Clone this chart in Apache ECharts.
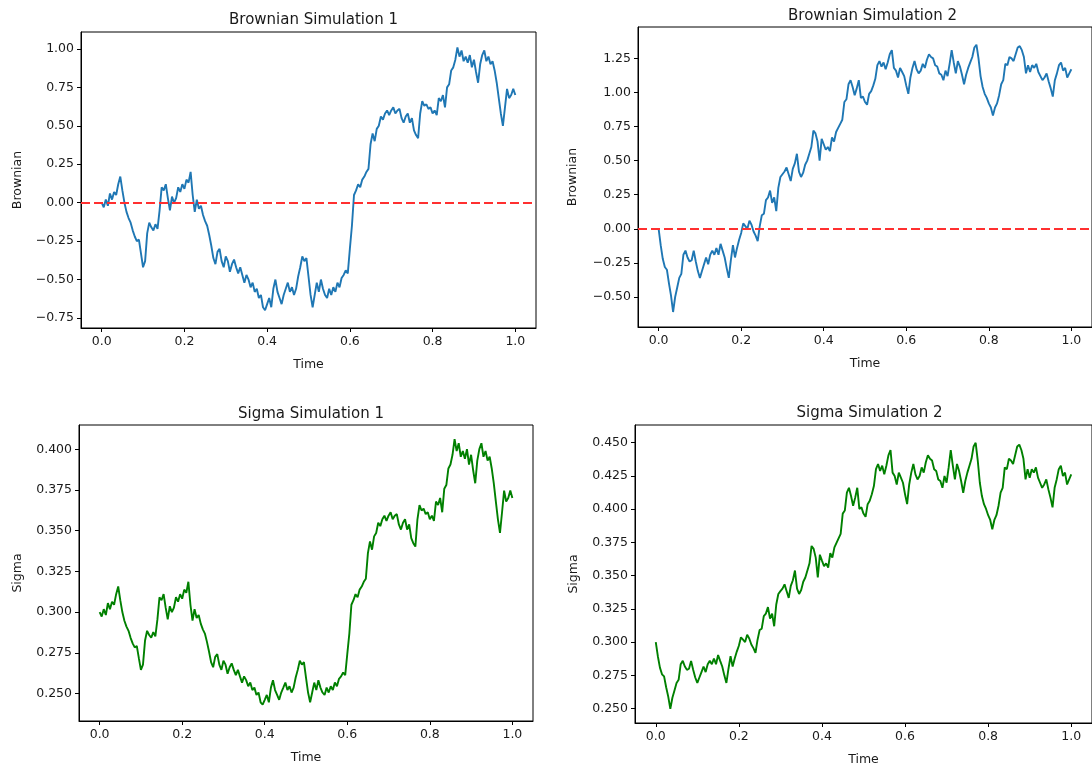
<!DOCTYPE html>
<html>
<head>
<meta charset="utf-8">
<script src="https://cdn.jsdelivr.net/npm/echarts@6/dist/echarts.min.js"></script>
<style>
html,body{margin:0;padding:0;background:#fff;}
#chart{width:1092px;height:767px;}
</style>
</head>
<body>
<div id="chart"></div>
<script>
// ---------- data ----------
const time = [
0,0.005,0.01,0.015,0.02,0.025,0.03,0.035,0.04,0.045,
0.05,0.055,0.06,0.065,0.07,0.075,0.08,0.085,0.09,0.095,
0.1,0.105,0.11,0.115,0.12,0.125,0.13,0.135,0.14,0.145,
0.15,0.155,0.16,0.165,0.17,0.175,0.18,0.185,0.19,0.195,
0.2,0.205,0.21,0.215,0.22,0.225,0.23,0.235,0.24,0.245,
0.25,0.255,0.26,0.265,0.27,0.275,0.28,0.285,0.29,0.295,
0.3,0.305,0.31,0.315,0.32,0.325,0.33,0.335,0.34,0.345,
0.35,0.355,0.36,0.365,0.37,0.375,0.38,0.385,0.39,0.395,
0.4,0.405,0.41,0.415,0.42,0.425,0.43,0.435,0.44,0.445,
0.45,0.455,0.46,0.465,0.47,0.475,0.48,0.485,0.49,0.495,
0.5,0.505,0.51,0.515,0.52,0.525,0.53,0.535,0.54,0.545,
0.55,0.555,0.56,0.565,0.57,0.575,0.58,0.585,0.59,0.595,
0.6,0.605,0.61,0.615,0.62,0.625,0.63,0.635,0.64,0.645,
0.65,0.655,0.66,0.665,0.67,0.675,0.68,0.685,0.69,0.695,
0.7,0.705,0.71,0.715,0.72,0.725,0.73,0.735,0.74,0.745,
0.75,0.755,0.76,0.765,0.77,0.775,0.78,0.785,0.79,0.795,
0.8,0.805,0.81,0.815,0.82,0.825,0.83,0.835,0.84,0.845,
0.85,0.855,0.86,0.865,0.87,0.875,0.88,0.885,0.89,0.895,
0.9,0.905,0.91,0.915,0.92,0.925,0.93,0.935,0.94,0.945,
0.95,0.955,0.96,0.965,0.97,0.975,0.98,0.985,0.99,0.995,
1.0
];

const brownian1 = [
0.00,-0.03,0.02,-0.02,0.06,0.02,0.07,0.05,0.12,0.17,
0.08,0.00,-0.06,-0.10,-0.13,-0.18,-0.22,-0.25,-0.24,-0.33,
-0.42,-0.38,-0.20,-0.13,-0.16,-0.18,-0.14,-0.17,-0.05,0.10,
0.08,0.12,0.03,-0.05,0.04,0.00,0.03,0.10,0.07,0.12,
0.09,0.15,0.13,0.20,0.05,-0.06,0.02,-0.04,-0.02,-0.08,
-0.12,-0.15,-0.21,-0.28,-0.36,-0.40,-0.32,-0.30,-0.38,-0.42,
-0.35,-0.38,-0.45,-0.40,-0.37,-0.42,-0.46,-0.42,-0.47,-0.52,
-0.47,-0.50,-0.55,-0.52,-0.58,-0.56,-0.62,-0.60,-0.68,-0.70,
-0.66,-0.62,-0.68,-0.56,-0.50,-0.58,-0.62,-0.66,-0.60,-0.56,
-0.52,-0.58,-0.55,-0.60,-0.56,-0.48,-0.42,-0.35,-0.38,-0.36,
-0.48,-0.60,-0.68,-0.60,-0.52,-0.58,-0.50,-0.56,-0.60,-0.62,
-0.56,-0.60,-0.55,-0.58,-0.52,-0.55,-0.49,-0.47,-0.44,-0.46,
-0.30,-0.15,0.05,0.08,0.12,0.10,0.15,0.17,0.20,0.22,
0.38,0.45,0.40,0.48,0.50,0.56,0.54,0.58,0.60,0.57,
0.60,0.62,0.58,0.60,0.61,0.55,0.52,0.56,0.58,0.52,
0.55,0.47,0.44,0.42,0.58,0.66,0.63,0.64,0.61,0.62,
0.58,0.60,0.57,0.68,0.66,0.70,0.62,0.75,0.77,0.86,
0.88,0.93,1.01,0.95,0.99,0.92,0.95,0.91,0.96,0.88,
0.93,0.85,0.78,0.90,0.96,0.99,0.92,0.95,0.90,0.92,
0.86,0.78,0.68,0.58,0.50,0.62,0.74,0.68,0.70,0.74,
0.70
];

const brownian2 = [
0.00,-0.12,-0.22,-0.28,-0.30,-0.40,-0.49,-0.61,-0.50,-0.43,
-0.36,-0.33,-0.19,-0.16,-0.21,-0.24,-0.23,-0.16,-0.24,-0.31,
-0.36,-0.31,-0.26,-0.21,-0.26,-0.19,-0.16,-0.19,-0.14,-0.19,
-0.11,-0.16,-0.21,-0.29,-0.36,-0.23,-0.12,-0.21,-0.14,-0.08,
-0.03,0.04,0.02,0.00,0.06,0.03,-0.02,-0.05,-0.09,0.02,
0.10,0.11,0.21,0.23,0.28,0.19,0.23,0.13,0.30,0.38,
0.40,0.42,0.45,0.40,0.35,0.44,0.48,0.55,0.42,0.38,
0.41,0.47,0.50,0.55,0.60,0.72,0.70,0.64,0.50,0.66,
0.62,0.58,0.60,0.57,0.67,0.64,0.71,0.74,0.77,0.80,
0.93,0.95,1.06,1.09,1.04,0.98,1.03,1.09,0.96,0.97,
0.93,0.91,0.99,1.01,1.05,1.10,1.20,1.23,1.19,1.22,
1.17,1.22,1.28,1.31,1.18,1.16,1.11,1.18,1.15,1.12,
1.05,0.99,1.11,1.18,1.23,1.17,1.14,1.16,1.21,1.18,
1.24,1.28,1.26,1.25,1.20,1.19,1.14,1.13,1.09,1.16,
1.12,1.21,1.31,1.22,1.14,1.23,1.19,1.13,1.06,1.13,
1.18,1.22,1.26,1.33,1.35,1.25,1.12,1.04,0.99,0.96,
0.92,0.89,0.83,0.89,0.92,0.98,1.06,1.09,1.21,1.20,
1.26,1.25,1.23,1.28,1.33,1.34,1.31,1.26,1.14,1.20,
1.15,1.20,1.18,1.21,1.15,1.12,1.09,1.11,1.14,1.08,
1.03,0.97,1.09,1.14,1.20,1.22,1.16,1.18,1.11,1.14,
1.17
];

const sigma1 = [
.3000,.2973,.3018,.2982,.3055,.3018,.3064,.3045,.3110,.3157,
.3073,.3000,.2947,.2911,.2885,.2842,.2808,.2783,.2792,.2717,
.2645,.2677,.2825,.2885,.2859,.2842,.2877,.2851,.2955,.3091,
.3073,.3110,.3027,.2955,.3036,.3000,.3027,.3091,.3064,.3110,
.3082,.3138,.3119,.3186,.3045,.2947,.3018,.2964,.2982,.2929,
.2894,.2868,.2817,.2758,.2693,.2661,.2725,.2742,.2677,.2645,
.2701,.2677,.2621,.2661,.2685,.2645,.2613,.2645,.2605,.2567,
.2605,.2582,.2544,.2567,.2521,.2536,.2491,.2506,.2446,.2432,
.2461,.2491,.2446,.2536,.2582,.2521,.2491,.2461,.2506,.2536,
.2567,.2521,.2544,.2506,.2536,.2598,.2645,.2701,.2677,.2693,
.2598,.2506,.2446,.2506,.2567,.2521,.2582,.2536,.2506,.2491,
.2536,.2506,.2544,.2521,.2567,.2544,.2590,.2605,.2629,.2613,
.2742,.2868,.3045,.3073,.3110,.3091,.3138,.3157,.3186,.3205,
.3362,.3434,.3383,.3465,.3486,.3549,.3528,.3570,.3592,.3560,
.3592,.3613,.3570,.3592,.3602,.3538,.3507,.3549,.3570,.3507,
.3538,.3454,.3423,.3402,.3570,.3657,.3624,.3635,.3602,.3613,
.3570,.3592,.3560,.3679,.3657,.3701,.3613,.3757,.3780,.3882,
.3906,.3966,.4062,.3989,.4037,.3954,.3989,.3942,.4001,.3906,
.3966,.3871,.3791,.3930,.4001,.4037,.3954,.3989,.3930,.3954,
.3882,.3791,.3679,.3570,.3486,.3613,.3746,.3679,.3701,.3746,
.3701
];

const sigma2 = [
.3000,.2894,.2808,.2758,.2742,.2661,.2590,.2498,.2582,.2637,
.2693,.2717,.2834,.2859,.2817,.2792,.2800,.2859,.2792,.2734,
.2693,.2734,.2775,.2817,.2775,.2834,.2859,.2834,.2877,.2834,
.2903,.2859,.2817,.2750,.2693,.2800,.2894,.2817,.2877,.2929,
.2973,.3036,.3018,.3000,.3055,.3027,.2982,.2955,.2920,.3018,
.3091,.3101,.3195,.3214,.3263,.3176,.3214,.3119,.3283,.3362,
.3383,.3402,.3434,.3383,.3332,.3423,.3465,.3538,.3402,.3362,
.3392,.3454,.3486,.3538,.3592,.3723,.3701,.3635,.3486,.3657,
.3613,.3570,.3592,.3560,.3668,.3635,.3712,.3746,.3780,.3814,
.3966,.3989,.4123,.4160,.4098,.4025,.4086,.4160,.4001,.4013,
.3966,.3942,.4037,.4062,.4111,.4173,.4300,.4339,.4287,.4326,
.4261,.4326,.4404,.4444,.4274,.4249,.4185,.4274,.4236,.4198,
.4111,.4037,.4185,.4274,.4339,.4261,.4223,.4249,.4313,.4274,
.4352,.4404,.4378,.4365,.4300,.4287,.4223,.4211,.4160,.4249,
.4198,.4313,.4444,.4326,.4223,.4339,.4287,.4211,.4123,.4211,
.4274,.4326,.4378,.4471,.4498,.4365,.4198,.4098,.4037,.4001,
.3954,.3918,.3848,.3918,.3954,.4025,.4123,.4160,.4313,.4300,
.4378,.4365,.4339,.4404,.4471,.4484,.4444,.4378,.4223,.4300,
.4236,.4300,.4274,.4313,.4236,.4198,.4160,.4185,.4223,.4148,
.4086,.4013,.4160,.4223,.4300,.4326,.4249,.4274,.4185,.4223,
.4261
];

const xTicks = [0, 0.2, 0.4, 0.6, 0.8, 1.0];
const brownian1Ticks = [-0.75, -0.5, -0.25, 0, 0.25, 0.5, 0.75, 1.0];
const brownian2Ticks = [-0.5, -0.25, 0, 0.25, 0.5, 0.75, 1.0, 1.25];
const sigma1Ticks = [0.25, 0.275, 0.3, 0.325, 0.35, 0.375, 0.4];
const sigma2Ticks = [0.25, 0.275, 0.3, 0.325, 0.35, 0.375, 0.4, 0.425, 0.45];
const titles = ['Brownian Simulation 1', 'Brownian Simulation 2', 'Sigma Simulation 1', 'Sigma Simulation 2'];
const yNames = ['Brownian', 'Brownian', 'Sigma', 'Sigma'];
const xName = 'Time';
const zeroLevel = 0;

// ---------- layout / style ----------
const FONT = 'DejaVu Sans';
const TXT = '#1a1a1a';
const grids = [
  {left: 81,  top: 32,  width: 455, height: 296},
  {left: 638, top: 27,  width: 459, height: 300},
  {left: 79,  top: 425, width: 454, height: 296},
  {left: 635, top: 425, width: 459, height: 298}
];
const yRanges = [[-0.815, 1.11], [-0.72, 1.48], [0.2331, 0.4149], [0.2392, 0.4632]];
const yTickSets = [brownian1Ticks, brownian2Ticks, sigma1Ticks, sigma2Ticks];
const yDecimals = [2, 2, 3, 3];
const yNameGaps = [57, 59, 55, 55];
const titleTops = [8, 4, 402, 401];

function fmt(v, d) {
  const s = Math.abs(v).toFixed(d);
  return (v < -1e-12 ? '\u2212' : '') + s;
}

const option = {
  animation: false,
  backgroundColor: '#ffffff',
  textStyle: {fontFamily: FONT},
  title: titles.map((t, i) => ({
    text: t,
    left: grids[i].left + grids[i].width / 2,
    top: titleTops[i],
    textAlign: 'center',
    textStyle: {fontFamily: FONT, fontSize: 15, fontWeight: 'normal', color: TXT}
  })),
  grid: grids.map(g => Object.assign({show: true, borderColor: '#000', borderWidth: 1, backgroundColor: 'transparent', containLabel: false}, g)),
  xAxis: grids.map((g, i) => ({
    type: 'value', gridIndex: i, min: -0.05, max: 1.05,
    name: xName, nameLocation: 'middle', nameGap: 30,
    nameTextStyle: {fontFamily: FONT, fontSize: 12.5, color: TXT},
    axisLine: {show: true, onZero: false, lineStyle: {color: '#000', width: 1}},
    axisTick: {show: true, length: 4, inside: false, customValues: xTicks, lineStyle: {color: '#000', width: 1}},
    axisLabel: {customValues: xTicks, margin: 7, fontFamily: FONT, fontSize: 12.5, color: TXT,
      formatter: v => fmt(v, 1)},
    splitLine: {show: false}
  })),
  yAxis: grids.map((g, i) => ({
    type: 'value', gridIndex: i, min: yRanges[i][0], max: yRanges[i][1],
    name: yNames[i], nameLocation: 'middle', nameGap: yNameGaps[i], nameRotate: 90,
    nameTextStyle: {fontFamily: FONT, fontSize: 12.5, color: TXT},
    axisLine: {show: true, onZero: false, lineStyle: {color: '#000', width: 1}},
    axisTick: {show: true, length: 4, inside: false, customValues: yTickSets[i], lineStyle: {color: '#000', width: 1}},
    axisLabel: {customValues: yTickSets[i], margin: 7, fontFamily: FONT, fontSize: 12.5, color: TXT,
      formatter: v => fmt(v, yDecimals[i])},
    splitLine: {show: false}
  })),
  series: [
    {type: 'line', xAxisIndex: 0, yAxisIndex: 0, data: time.map((t, k) => [t, brownian1[k]]),
      showSymbol: false, symbol: 'none', lineStyle: {color: '#1f77b4', width: 1.9}, z: 3,
      markLine: {silent: true, symbol: 'none', label: {show: false}, z: 5,
        lineStyle: {color: '#ff3030', type: [9, 4], width: 2}, data: [{yAxis: zeroLevel}]}},
    {type: 'line', xAxisIndex: 1, yAxisIndex: 1, data: time.map((t, k) => [t, brownian2[k]]),
      showSymbol: false, symbol: 'none', lineStyle: {color: '#1f77b4', width: 1.9}, z: 3,
      markLine: {silent: true, symbol: 'none', label: {show: false}, z: 5,
        lineStyle: {color: '#ff3030', type: [9, 4], width: 2}, data: [{yAxis: zeroLevel}]}},
    {type: 'line', xAxisIndex: 2, yAxisIndex: 2, data: time.map((t, k) => [t, sigma1[k]]),
      showSymbol: false, symbol: 'none', lineStyle: {color: '#008000', width: 1.9}},
    {type: 'line', xAxisIndex: 3, yAxisIndex: 3, data: time.map((t, k) => [t, sigma2[k]]),
      showSymbol: false, symbol: 'none', lineStyle: {color: '#008000', width: 1.9}}
  ]
};

const chart = echarts.init(document.getElementById('chart'), null, {renderer: 'canvas'});
chart.setOption(option);
</script>
</body>
</html>
